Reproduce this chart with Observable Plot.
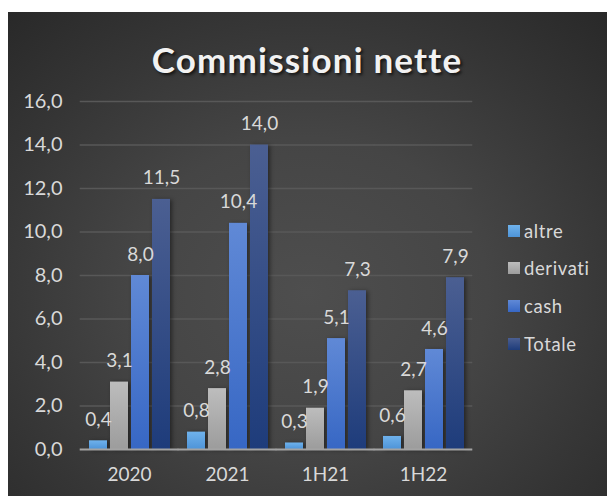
<!DOCTYPE html>
<html>
<head>
<meta charset="utf-8">
<script src="https://cdn.jsdelivr.net/npm/d3@7"></script>
<script src="https://cdn.jsdelivr.net/npm/@observablehq/plot@0.6"></script>
<style>
  html, body { margin: 0; padding: 0; background: #fff; width: 607px; height: 496px; overflow: hidden; }
  #card {
    position: absolute; left: 8px; top: 12px; width: 599px; height: 484px;
    background: radial-gradient(ellipse 75% 80% at 50% 58%, #4e4e4e 0%, #454545 40%, #363636 70%, #282828 100%);
    font-family: Lato, "Open Sans", sans-serif;
  }
  #title {
    position: absolute; left: 0; top: 30px; width: 598px; text-align: center;
    font-size: 35px; line-height: 35px; font-weight: 700; color: #f2f2f2;
    letter-spacing: 1.2px;
    text-shadow: 2px 2px 3px rgba(0,0,0,0.65);
  }
  #chart { position: absolute; left: 0; top: 68px; }
  .leg { position: absolute; left: 500px; height: 22px; display: flex; align-items: center; color: #d9d9d9; font-size: 18.5px; letter-spacing: 0.6px; }
  .leg span.sw { width: 12px; height: 12px; margin-right: 4px; display: inline-block; }
</style>
</head>
<body>
<div id="card">
  <div id="title">Commissioni nette</div>
  <div id="chart"></div>
  <div id="legend"></div>
</div>
<script>
const categories = ["2020", "2021", "1H21", "1H22"];
const series = ["altre", "derivati", "cash", "Totale"];
const altre = [0.4, 0.8, 0.3, 0.6];
const derivati = [3.1, 2.8, 1.9, 2.7];
const cash = [8.0, 10.4, 5.1, 4.6];
const totale = [11.5, 14.0, 7.3, 7.9];
const yTicks = [0, 2, 4, 6, 8, 10, 12, 14, 16];

const seriesValues = [altre, derivati, cash, totale];
const data = [];
categories.forEach((c, i) => {
  series.forEach((s, j) => data.push({group: c, series: s, value: seriesValues[j][i]}));
});

const gradients = [
  ["gA", "#6fb2ec", "#4e94d8"],
  ["gD", "#bdbdbd", "#9c9c9c"],
  ["gC", "#6089d6", "#3767c4"],
  ["gT", "#4b5f92", "#1e3c7b"]
];
const fmt = d => d.toFixed(1).replace(".", ",");

const chart = Plot.plot({
  width: 599,
  height: 416,
  marginTop: 21,
  marginBottom: 47,
  marginLeft: 71,
  marginRight: 134,
  style: {background: "transparent", color: "#d9d9d9", fontFamily: "Lato, 'Open Sans', sans-serif", fontSize: "19px", overflow: "visible"},
  facet: {data, x: "group"},
  fx: {domain: categories, paddingInner: 0.166, paddingOuter: 0.08, axis: "bottom", tickSize: 0, tickPadding: 18, label: null},
  x: {domain: series, paddingInner: 0.16, paddingOuter: 0, axis: null},
  y: {domain: [0, 16], ticks: yTicks, tickFormat: fmt, tickSize: 0, tickPadding: 17, label: null},
  color: {domain: series, range: gradients.map(g => `url(#${g[0]})`)},
  marks: [
    Plot.ruleY(yTicks.slice(1), {stroke: "#585858", strokeWidth: 1.5, insetLeft: -8.3, insetRight: -8.3}),
    Plot.barY(data, {x: "series", y: "value", fill: "series"}),
    Plot.ruleY([0], {stroke: "#a3a3a3", strokeWidth: 2, insetLeft: -8.3, insetRight: -8.3}),
    Plot.text(data, {x: "series", y: "value", text: d => fmt(d.value), dy: -21, fill: "#d9d9d9", fontSize: 19})
  ]
});

const svg = d3.select(chart.tagName.toLowerCase() === "svg" ? chart : chart.querySelector("svg"));
const defs = svg.insert("defs", ":first-child");
gradients.forEach(([id, a, b]) => {
  const g = defs.append("linearGradient").attr("id", id).attr("x1", 0).attr("y1", 0).attr("x2", 0).attr("y2", 1);
  g.append("stop").attr("offset", "0%").attr("stop-color", a);
  g.append("stop").attr("offset", "100%").attr("stop-color", b);
});
svg.selectAll("rect").style("filter", "drop-shadow(2px 1px 2px rgba(0,0,0,0.45))");
// y-axis tick labels: larger and further left, as in the reference
svg.selectAll("g[aria-label^='y-axis'] text")
  .style("font-size", "20px")
  .attr("transform", function() {
    const t = this.getAttribute("transform") || "";
    return t + " translate(-9,0)";
  });
document.getElementById("chart").appendChild(chart);

const legend = document.getElementById("legend");
const legTop = [208, 245, 283, 321];
series.forEach((s, i) => {
  const el = document.createElement("div");
  el.className = "leg";
  el.style.top = legTop[i] + "px";
  const g = gradients[i];
  el.innerHTML = `<span class="sw" style="background:linear-gradient(${g[1]}, ${g[2]})"></span>${s}`;
  legend.appendChild(el);
});
</script>
</body>
</html>
